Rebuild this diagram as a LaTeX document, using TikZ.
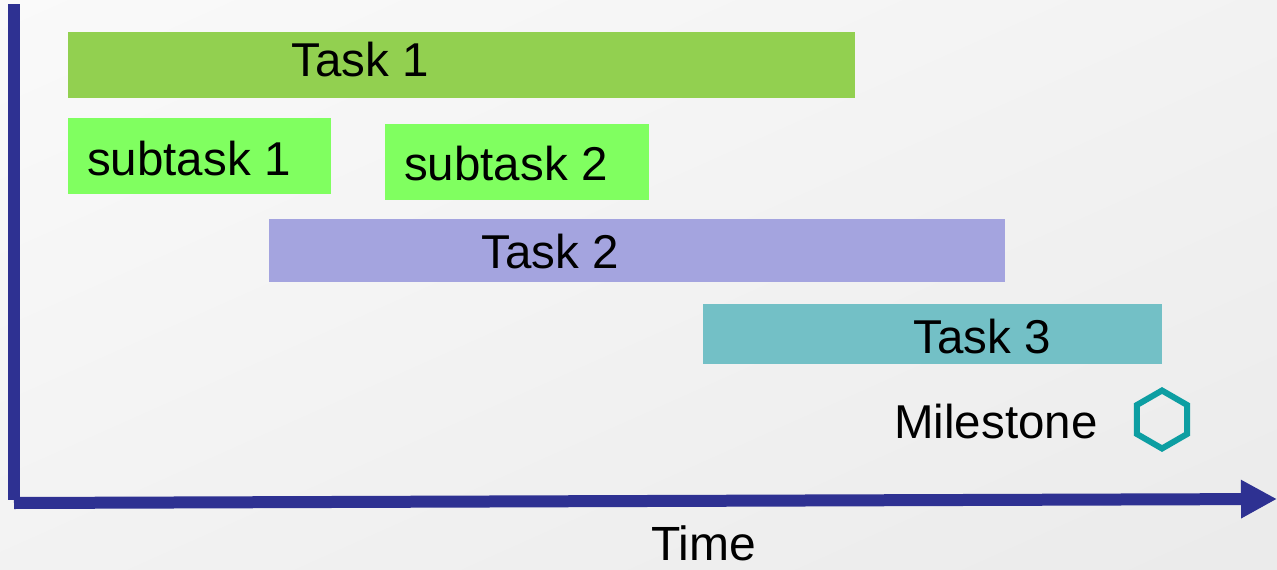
\documentclass[tikz,border=0pt]{standalone}
\usepackage{fontspec}
\setmainfont{Liberation Sans}
\usepackage{xcolor}
\usepackage{tikz}
\usetikzlibrary{shapes.geometric,arrows.meta,positioning,calc,shadings}
\definecolor{ganttaxis}{HTML}{2E3192}
\definecolor{ganttone}{HTML}{92D050}
\definecolor{ganttsub}{HTML}{80FF60}
\definecolor{gantttwo}{HTML}{A4A4DF}
\definecolor{ganttthree}{HTML}{73C0C6}
\definecolor{ganttmile}{HTML}{0D9EA2}

\begin{document}
\begin{tikzpicture}[
    x=1pt, y=-1pt,
    bar/.style={rectangle, inner sep=0pt, outer sep=0pt, anchor=north west},
    lbl/.style={anchor=base west, inner sep=0pt, font=\fontsize{47.5}{56}\selectfont},
    axis/.style={line width=12pt, draw=ganttaxis},
    mile/.style={regular polygon, regular polygon sides=6, shape border rotate=30, draw=ganttmile, line width=6pt, minimum size=58pt, inner sep=0pt}
]
    % Background
    \useasboundingbox (0,0) rectangle (1277,570);
    \shade[upper left=black!2, upper right=black!5, lower left=black!5, lower right=black!8] (0,0) rectangle (1277,570);

    % Tasks
    \node (t1) [bar, fill=ganttone, minimum width=787pt, minimum height=66pt] at (68,32) {};
    \node (s1) [bar, fill=ganttsub, minimum width=263pt, minimum height=76pt] at (68,118) {};
    \node (s2) [bar, fill=ganttsub, minimum width=264pt, minimum height=76pt] at (385,124) {};
    \node (t2) [bar, fill=gantttwo, minimum width=736pt, minimum height=63pt] at (269,219) {};
    \node (t3) [bar, fill=ganttthree, minimum width=459pt, minimum height=60pt] at (703,304) {};

    \node (t1l) [lbl] at (291,76) {Task 1};
    \node (s1l) [lbl] at (87,175) {subtask 1};
    \node (s2l) [lbl] at (404,180) {subtask 2};
    \node (t2l) [lbl] at (481,268) {Task 2};
    \node (t3l) [lbl] at (913,353) {Task 3};

    % Milestone
    \node (ml) [lbl] at (894,438) {Milestone};
    \node (m1) [mile] at (1162,419.5) {};

    % Axes
    \coordinate (top) at (14,4);
    \coordinate (corner) at (14,500);
    \coordinate (origin) at (14,503);
    \coordinate (tend) at (1277,499);
    \draw [axis] (top) -- (corner);
    \draw [axis, -{Triangle[length=36pt, width=36pt]}] (origin) -- (tend);
    \node (time) [lbl, font=\fontsize{48}{57}\selectfont] at (651,560) {Time};
\end{tikzpicture}
\end{document}
